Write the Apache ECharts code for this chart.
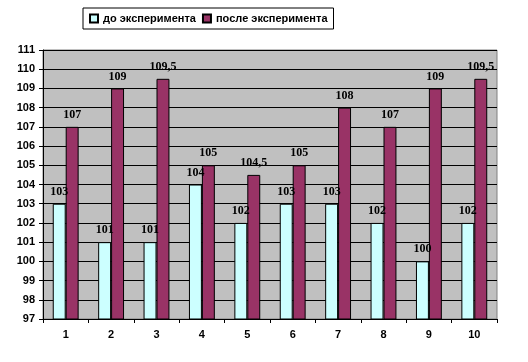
<!DOCTYPE html>
<html><head><meta charset="utf-8">
<script src="https://cdn.jsdelivr.net/npm/echarts@6/dist/echarts.min.js"></script>
<style>html,body{margin:0;padding:0;background:#fff}#c{width:528px;height:362px}</style>
</head><body><div id="c"></div>
<script>
const categories = ['1','2','3','4','5','6','7','8','9','10'];
const before = [103,101,101,104,102,103,103,102,100,102];
const after = [107,109,109.5,105,104.5,105,108,107,109,109.5];
const seriesNames = ['до эксперимента','после эксперимента'];
const yMin = 97, yMax = 111, yStep = 1;

const chart = echarts.init(document.getElementById('c'));
const fmt = p => String(p.value).replace('.', ',');
const lbl = {show:true, position:'top', distance:6, formatter:fmt,
  fontFamily:'Liberation Serif', fontWeight:'bold', fontSize:12, color:'#000'};
chart.setOption({
  animation:false,
  legend:{
    left:83, top:8, itemWidth:8, itemHeight:8, itemGap:6,
    padding:[5,6,5,6], borderColor:'#000', borderWidth:1,
    textStyle:{fontFamily:'Liberation Sans', fontWeight:'bold', fontSize:11, color:'#000'},
    icon:'rect', data:seriesNames
  },
  grid:{left:43, right:31, top:50, bottom:43, show:true, backgroundColor:'#C0C0C0', borderColor:'#808080', borderWidth:1},
  xAxis:{type:'category', data:categories,
    axisLine:{lineStyle:{color:'#000'}},
    axisTick:{show:true, length:4, lineStyle:{color:'#000'}},
    axisLabel:{fontFamily:'Liberation Sans', fontWeight:'bold', fontSize:11, color:'#000', margin:10}
  },
  yAxis:{type:'value', min:yMin, max:yMax, interval:yStep,
    axisLine:{show:true, lineStyle:{color:'#000'}},
    axisTick:{show:true, length:4, lineStyle:{color:'#000'}},
    splitLine:{lineStyle:{color:'#000'}},
    axisLabel:{fontFamily:'Liberation Sans', fontWeight:'bold', fontSize:11, color:'#000', margin:8}
  },
  series:[
    {name:seriesNames[0], type:'bar', data:before, barGap:'0%', barCategoryGap:'43%',
     itemStyle:{color:'#CCFFFF', borderColor:'#000', borderWidth:1}, label:lbl},
    {name:seriesNames[1], type:'bar', data:after,
     itemStyle:{color:'#993366', borderColor:'#000', borderWidth:1}, label:lbl}
  ]
});
</script></body></html>
